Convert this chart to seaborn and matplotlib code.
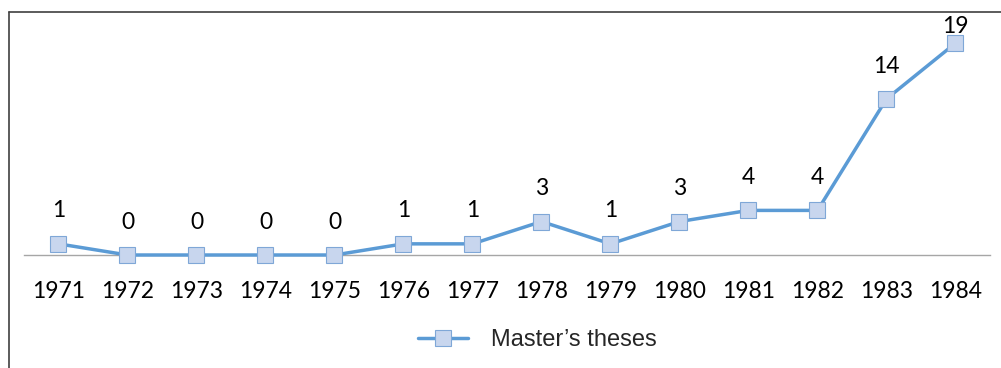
import matplotlib
matplotlib.use("Agg")
import matplotlib.pyplot as plt
from matplotlib.lines import Line2D
import seaborn as sns
import pandas as pd

years = ["1971", "1972", "1973", "1974", "1975", "1976", "1977",
         "1978", "1979", "1980", "1981", "1982", "1983", "1984"]
theses = [1, 0, 0, 0, 0, 1, 1, 3, 1, 3, 4, 4, 14, 19]
series_name = "Master\u2019s theses"

df = pd.DataFrame({"year": years, "count": theses})

sns.set_style("white")
plt.rcParams["font.family"] = ["Lato", "DejaVu Sans"]

line_color = "#5B9BD5"
marker_face = "#C8D6EE"
marker_edge = "#7FA7D7"

fig = plt.figure(figsize=(10.01, 3.68), dpi=100)
ax = fig.add_axes([24 / 1001, 1 - 255 / 368, 966 / 1001, 223 / 368])

sns.lineplot(data=df, x="year", y="count", ax=ax, color=line_color,
             linewidth=2.5, marker="s", markersize=11.5,
             markerfacecolor=marker_face, markeredgecolor=marker_edge,
             markeredgewidth=0.8, sort=False)
for ln in ax.lines:
    ln.set_clip_on(False)

ax.set_xlim(-0.5, len(years) - 0.5)
ax.set_ylim(0, 20)
ax.set_xlabel("")
ax.set_ylabel("")
ax.set_yticks([])
for side in ("top", "right", "left"):
    ax.spines[side].set_visible(False)
ax.spines["bottom"].set_color("#A6A6A6")
ax.spines["bottom"].set_linewidth(1.0)
ax.spines["bottom"].set_zorder(0)
ax.tick_params(axis="x", length=0, pad=19, labelsize=16.5, colors="black")

# Value labels above each point, kept inside the chart frame
label_gap = 2.95
label_ceiling = 20.45
for i, v in enumerate(theses):
    ax.text(i, min(v + label_gap, label_ceiling), str(v), ha="center",
            va="center", fontsize=16.5, color="black", clip_on=False)

# Legend below the plot
handle = Line2D([], [], color=line_color, linewidth=2.5, marker="s",
                markersize=11.5, markerfacecolor=marker_face,
                markeredgecolor=marker_edge, markeredgewidth=0.8)
fig.legend([handle], [series_name], loc="center", bbox_to_anchor=(0.537, 1 - 340 / 368),
           frameon=False, handlelength=2.1, handletextpad=1.0,
           prop={"family": "Liberation Sans", "size": 17})

# Frame around the chart area
fig.add_artist(Line2D([8.5 / 1001, 8.5 / 1001], [0, 1 - 11.5 / 368],
                      transform=fig.transFigure, color="#404040", linewidth=1.2))
fig.add_artist(Line2D([8.5 / 1001, 1], [1 - 11.5 / 368, 1 - 11.5 / 368],
                      transform=fig.transFigure, color="#404040", linewidth=1.2))

fig.savefig("out.png", dpi=100, facecolor="white")
